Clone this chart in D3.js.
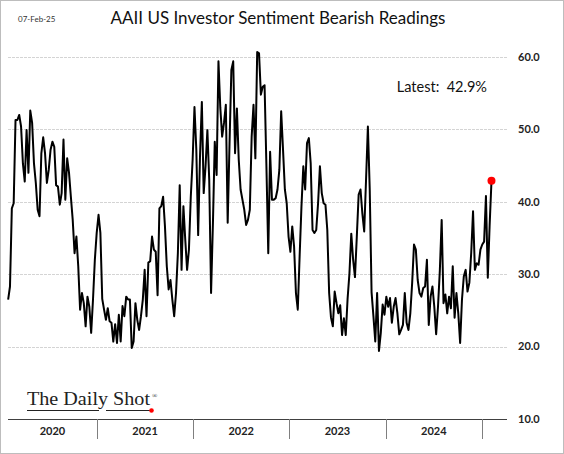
<!doctype html>
<html lang="en">
	<head>
		<meta charset="UTF-8" />
		<title>AAII US Investor Sentiment Bearish Readings</title>
		<script src="https://d3js.org/d3.v7.min.js"></script>
		<style>
			body {
				margin: 0;
				background: #fff;
			}
			svg {
				display: block;
				font-family: Lato, 'Open Sans', sans-serif;
			}
			.grid {
				stroke: #d4d4d4;
				stroke-width: 1px;
				stroke-dasharray: 3, 1;
			}
			.line {
				fill: none;
				stroke: #000;
				stroke-width: 2px;
				stroke-linejoin: round;
			}
			.ylab,
			.year {
				font-weight: bold;
				font-size: 11px;
				fill: #222;
			}
		</style>
	</head>
	<body>
		<svg width="564" height="454"></svg>
		<script>
			// weekly AAII bearish readings (%), first survey 30-Jan-2020, last 06-Feb-2025
			const startDate = new Date(2020, 0, 30)
			const bearish = [
				26.5, 28.3, 39.1, 39.8, 51.3, 51.3, 52.0, 50.4, 45.3, 42.8, 49.9, 44.0, 52.6, 50.9, 45.3, 42.6, 38.9, 38.0,
				46.7, 48.9, 46.7, 42.6, 44.4, 47.2, 48.3, 47.6, 42.3, 42.1, 39.6, 41.2, 48.6, 40.3, 46.0, 44.0, 40.7, 37.5,
				32.9, 35.2, 31.1, 25.1, 27.4, 26.0, 22.8, 26.9, 25.5, 21.9, 26.5, 32.0, 35.7, 38.2, 35.7, 26.6, 25.1, 23.7,
				25.3, 23.5, 23.3, 20.7, 23.1, 20.5, 24.4, 20.7, 25.6, 24.2, 26.9, 26.5, 26.5, 19.8, 20.7, 26.0, 23.7, 22.3,
				24.2, 26.5, 30.6, 24.2, 31.6, 31.8, 35.2, 33.4, 33.1, 27.1, 39.1, 39.4, 40.7, 36.6, 31.1, 27.9, 29.2, 26.5,
				24.2, 27.4, 32.9, 42.3, 30.6, 39.4, 34.8, 30.6, 33.4, 40.7, 45.8, 53.1, 47.2, 35.4, 46.3, 53.8, 41.2, 44.9,
				49.9, 43.0, 27.4, 37.0, 48.3, 43.7, 59.4, 53.0, 49.0, 50.9, 53.4, 37.1, 48.0, 58.2, 59.4, 46.7, 52.9, 45.8,
				41.7, 40.3, 38.9, 36.8, 37.5, 38.9, 49.0, 53.4, 46.0, 60.7, 60.5, 54.8, 55.9, 56.1, 44.9, 32.9, 46.9, 40.3,
				40.3, 40.5, 41.7, 44.4, 52.5, 47.2, 41.7, 39.8, 35.2, 33.1, 36.6, 33.8, 27.4, 25.1, 32.5, 39.4, 44.9, 41.7,
				48.1, 48.8, 45.3, 36.1, 35.7, 36.1, 39.8, 44.9, 41.2, 39.8, 39.6, 36.1, 27.4, 24.0, 22.8, 27.6, 26.0, 24.6,
				25.7, 21.6, 23.9, 21.6, 26.6, 30.1, 35.6, 32.0, 29.6, 35.2, 41.0, 41.7, 38.4, 35.9, 43.0, 50.4, 41.7, 27.5,
				24.2, 20.7, 27.4, 19.4, 21.9, 25.8, 24.4, 26.9, 25.5, 26.7, 23.3, 25.5, 26.7, 24.6, 21.7, 22.3, 23.0, 27.4,
				23.3, 22.3, 24.6, 28.8, 34.1, 33.4, 29.2, 27.4, 26.9, 28.1, 28.3, 32.0, 23.0, 26.9, 28.3, 25.5, 21.7, 25.5,
				30.5, 37.5, 26.0, 27.2, 24.6, 26.9, 25.3, 31.1, 24.0, 27.4, 24.6, 20.5, 26.5, 29.7, 30.6, 27.6, 28.8, 32.9,
				38.7, 30.6, 31.5, 31.3, 33.4, 34.1, 34.5, 40.8, 29.5, 36.8, 42.9
			]
			const yTicks = [10, 20, 30, 40, 50, 60]
			const years = [2020, 2021, 2022, 2023, 2024]
			const title = 'AAII US Investor Sentiment Bearish Readings'
			const dateLabel = '07-Feb-25'

			const data = bearish.map((v, i) => ({ date: d3.timeWeek.offset(startDate, i), value: v }))
			const latest = data[data.length - 1]

			const svg = d3.select('svg')
			const left = 8
			const right = 507

			const x = d3
				.scaleTime()
				.domain([new Date(2020, 0, 1), new Date(2025, 0, 1)])
				.range([0.5, 482])
			const y = d3.scaleLinear().domain([10, 60]).range([419, 57])

			// frame
			svg.append('rect')
				.attr('x', 0.5)
				.attr('y', 0.5)
				.attr('width', 563)
				.attr('height', 453)
				.attr('fill', 'none')
				.attr('stroke', '#bdbdbd')

			svg.append('text')
				.attr('x', 18)
				.attr('y', 22)
				.attr('font-size', 8)
				.attr('fill', '#333')
				.text(dateLabel)

			svg.append('text')
				.attr('x', 278)
				.attr('y', 24)
				.attr('text-anchor', 'middle')
				.attr('font-size', 17)
				.attr('fill', '#111')
				.text(title)

			// gridlines
			svg.append('g')
				.selectAll('line')
				.data(yTicks.filter((d) => d > 10))
				.join('line')
				.attr('class', 'grid')
				.attr('x1', left)
				.attr('x2', right)
				.attr('y1', (d) => Math.round(y(d)) + 0.5)
				.attr('y2', (d) => Math.round(y(d)) + 0.5)

			// right axis labels
			svg.append('g')
				.selectAll('text')
				.data(yTicks)
				.join('text')
				.attr('class', 'ylab')
				.attr('x', 518)
				.attr('y', (d) => y(d))
				.attr('dy', '0.35em')
				.text((d) => d3.format('.1f')(d))

			// bottom axis with year bands
			svg.append('line')
				.attr('x1', left)
				.attr('x2', right)
				.attr('y1', y(10) + 0.5)
				.attr('y2', y(10) + 0.5)
				.attr('stroke', '#404040')
				.attr('stroke-width', 1)

			svg.append('g')
				.selectAll('line')
				.data(years.map((d) => d + 1))
				.join('line')
				.attr('x1', (d) => Math.round(x(new Date(d, 0, 1))) + 0.5)
				.attr('x2', (d) => Math.round(x(new Date(d, 0, 1))) + 0.5)
				.attr('y1', y(10))
				.attr('y2', y(10) + 20)
				.attr('stroke', '#7f7f7f')

			svg.append('g')
				.selectAll('text')
				.data(years)
				.join('text')
				.attr('class', 'year')
				.attr('text-anchor', 'middle')
				.attr('x', (d) => (Math.max(left, x(new Date(d, 0, 1))) + x(new Date(d + 1, 0, 1))) / 2)
				.attr('y', 435)
				.text((d) => d)

			// series
			const line = d3
				.line()
				.x((d) => x(d.date))
				.y((d) => y(d.value))

			svg.append('path').datum(data).attr('class', 'line').attr('d', line)

			svg.append('circle')
				.attr('cx', x(latest.date))
				.attr('cy', y(latest.value))
				.attr('r', 4)
				.attr('fill', '#ff0000')

			svg.append('text')
				.attr('x', 487)
				.attr('y', 92)
				.attr('text-anchor', 'end')
				.attr('font-size', 14.5)
				.attr('fill', '#111')
				.style('white-space', 'pre')
				.text(`Latest:  ${latest.value.toFixed(1)}%`)

			// logo
			const logo = svg.append('g').attr('fill', '#222')
			logo.append('text')
				.attr('x', 27)
				.attr('y', 405)
				.attr('font-family', "'Liberation Serif', 'DejaVu Serif', serif")
				.attr('font-size', 19)
				.attr('textLength', 123)
				.attr('lengthAdjust', 'spacingAndGlyphs')
				.text('The Daily Shot')
			logo.append('text')
				.attr('x', 152)
				.attr('y', 398)
				.attr('font-family', "'Liberation Serif', serif")
				.attr('font-size', 7)
				.text('®')
			logo.append('line')
				.attr('x1', 27)
				.attr('x2', 99)
				.attr('y1', 410.5)
				.attr('y2', 410.5)
				.attr('stroke', '#222')
			logo.append('line')
				.attr('x1', 106)
				.attr('x2', 150)
				.attr('y1', 410.5)
				.attr('y2', 410.5)
				.attr('stroke', '#222')
			logo.append('circle').attr('cx', 151.5).attr('cy', 410.5).attr('r', 2.3).attr('fill', '#ff0000')
		</script>
	</body>
</html>
